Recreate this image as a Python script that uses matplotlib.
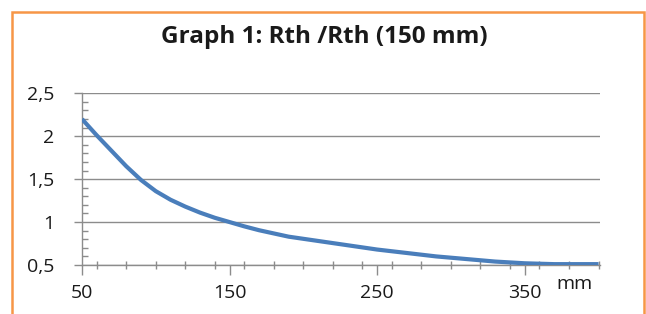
import matplotlib.pyplot as plt
from matplotlib.patches import Rectangle
from matplotlib.ticker import MultipleLocator

# values
thickness_mm = [50, 60, 70, 80, 90, 100, 110, 120, 130, 140, 150, 160, 170, 190,
                210, 230, 250, 270, 290, 310, 330, 350, 370, 390, 400]
rth_ratio = [2.20, 2.01, 1.83, 1.65, 1.49, 1.36, 1.26, 1.18, 1.11, 1.05, 1.00, 0.95,
             0.905, 0.83, 0.78, 0.73, 0.68, 0.64, 0.60, 0.57, 0.54, 0.52, 0.51,
             0.51, 0.51]
x_ticks = [50, 150, 250, 350]
y_ticks = [0.5, 1, 1.5, 2, 2.5]
y_labels = ["0,5", "1", "1,5", "2", "2,5"]

plt.rcParams["font.family"] = ["Open Sans", "DejaVu Sans"]

fig = plt.figure(figsize=(6.46, 3.14), dpi=100)

# orange chart frame
fig.patches.append(Rectangle((12 / 646, -0.1), 632 / 646, 1.1 - 12 / 314,
                             transform=fig.transFigure, fill=False,
                             edgecolor="#F79646", linewidth=1.8))

ax = fig.add_axes([82 / 646, 1 - 265 / 314, 518 / 646, (265 - 93.3) / 314])
ax.plot(thickness_mm, rth_ratio, color="#4A7EBB", linewidth=3,
        solid_capstyle="butt", solid_joinstyle="round", zorder=3)

ax.set_xlim(50, 401)
ax.set_ylim(0.5, 2.5)
ax.set_xticks(x_ticks)
ax.xaxis.set_minor_locator(MultipleLocator(20))
ax.set_yticks(y_ticks)
ax.set_yticklabels(y_labels)
ax.yaxis.set_minor_locator(MultipleLocator(0.1))

ax.grid(axis="y", color="#8c8c8c", linewidth=1)
ax.set_axisbelow(True)
for s in ["top", "right"]:
    ax.spines[s].set_visible(False)
for s in ["left", "bottom"]:
    ax.spines[s].set_color("#8c8c8c")
    ax.spines[s].set_linewidth(1)

ax.tick_params(axis="x", which="major", direction="out", length=7, width=1,
               color="#8c8c8c", labelsize=14, pad=7, labelcolor="#1a1a1a")
ax.tick_params(axis="x", which="minor", direction="inout", length=6, width=1,
               color="#8c8c8c")
ax.tick_params(axis="y", which="major", direction="out", length=6, width=1,
               color="#8c8c8c", labelsize=14, pad=14, labelcolor="#1a1a1a")
ax.tick_params(axis="y", which="minor", direction="in", length=4, width=1,
               color="#8c8c8c")

fig.text(574 / 646, 1 - 284 / 314, "mm", ha="center", va="center",
         fontsize=14, color="#1a1a1a")
fig.text(324 / 646, 1 - 37 / 314, "Graph 1: Rth /Rth (150 mm)", ha="center",
         va="center", fontsize=17.5, fontweight="bold", color="#1a1a1a")

fig.savefig("out.png", dpi=100)
